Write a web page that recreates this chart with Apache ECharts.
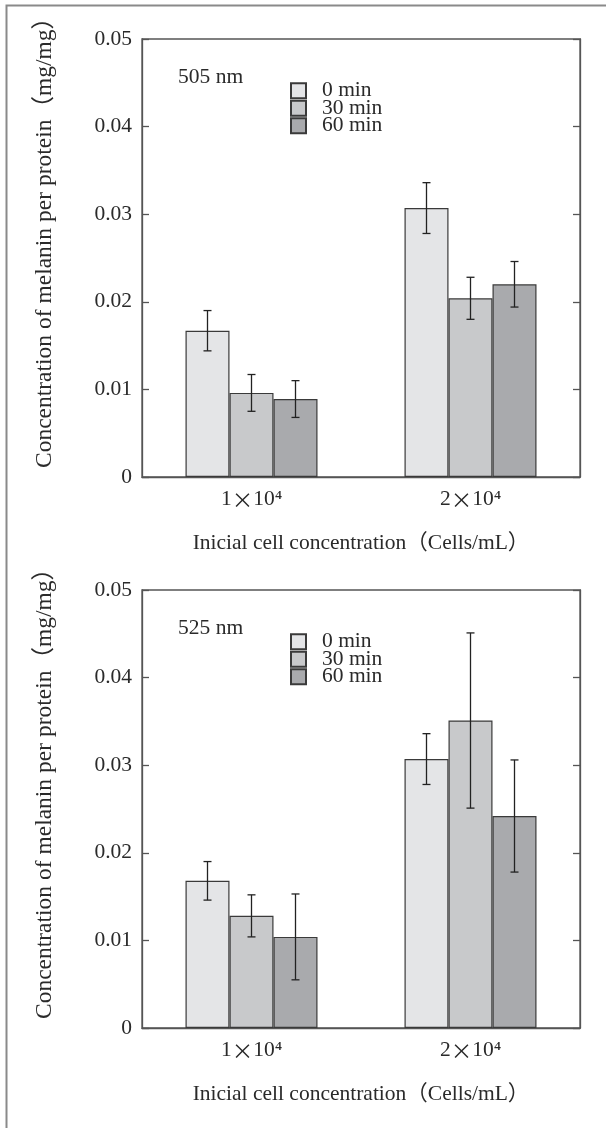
<!DOCTYPE html>
<html>
<head>
<meta charset="utf-8">
<script src="https://cdn.jsdelivr.net/npm/echarts@6/dist/echarts.min.js"></script>
<style>
html,body{margin:0;padding:0;background:#fff;}
#c{width:606px;height:1128px;}
</style>
</head>
<body>
<div id="c"></div>
<script>
// ---- data ----
const categories = ['1×10⁴', '2×10⁴'];
const seriesNames = ['0 min', '30 min', '60 min'];
const yTicks = [0, 0.01, 0.02, 0.03, 0.04, 0.05];
const panelTitles = ['505 nm', '525 nm'];

const mean505_0 = [0.0167, 0.0307];
const mean505_30 = [0.0096, 0.0204];
const mean505_60 = [0.0089, 0.0220];
const err505_0 = [0.0023, 0.0029];
const err505_30 = [0.0021, 0.0024];
const err505_60 = [0.0021, 0.0026];

const mean525_0 = [0.0168, 0.0307];
const mean525_30 = [0.0128, 0.0351];
const mean525_60 = [0.0104, 0.0242];
const err525_0 = [0.0022, 0.0029];
const err525_30 = [0.0024, 0.0100];
const err525_60 = [0.0049, 0.0064];

// ---- styles ----
const SERIF = '"Liberation Serif", "Noto Sans CJK JP", serif';
const TXT = '#2a2a2a';
const barColors = ['#e4e5e7', '#c8c9cb', '#a9aaad'];
const BAR_W = 44;
const FS = 21.5;

const panels = [
  {means: [mean505_0, mean505_30, mean505_60], errs: [err505_0, err505_30, err505_60], top: 39},
  {means: [mean525_0, mean525_30, mean525_60], errs: [err525_0, err525_30, err525_60], top: 590}
];

const grid = [], xAxis = [], yAxis = [], series = [], legend = [], title = [];

panels.forEach((p, gi) => {
  grid.push({left: 142, top: p.top, width: 438, height: 438, show: true,
    borderColor: '#555', borderWidth: 1.3, backgroundColor: 'transparent'});
  xAxis.push({
    type: 'category', gridIndex: gi, data: categories,
    axisLine: {show: true, lineStyle: {color: '#555', width: 1.3}},
    axisTick: {show: false},
    axisLabel: {margin: 12, fontFamily: SERIF, fontSize: FS, color: TXT,
      formatter: function (v) { const parts = v.split('×'); return '{n|' + parts[0] + '}{x|×}{n|' + parts[1] + '}'; },
      rich: {n: {fontFamily: SERIF, fontSize: FS, color: TXT},
             x: {fontFamily: '"Noto Sans CJK JP"', fontSize: FS, color: TXT}}},
    name: 'Inicial cell concentration（Cells/mL）', nameLocation: 'middle', nameGap: 56,
    nameTextStyle: {fontFamily: SERIF, fontSize: FS, color: TXT}
  });
  yAxis.push({
    type: 'value', gridIndex: gi, position: 'left',
    min: yTicks[0], max: yTicks[yTicks.length - 1], interval: 0.01,
    axisLine: {show: true, lineStyle: {color: '#555', width: 1.3}},
    axisTick: {show: true, inside: true, length: 7, lineStyle: {color: '#555', width: 1.3}},
    splitLine: {show: false},
    axisLabel: {margin: 10, fontFamily: SERIF, fontSize: FS, color: TXT,
      formatter: function (v) { return v === 0 ? '0' : v.toFixed(2); }},
    name: 'Concentration of melanin per protein（mg/mg）', nameLocation: 'middle', nameGap: 85,
    nameTextStyle: {fontFamily: SERIF, fontSize: 23.5, color: TXT, padding: [0, 0, 0, 42]}
  });
  yAxis.push({
    type: 'value', gridIndex: gi, position: 'right',
    min: yTicks[0], max: yTicks[yTicks.length - 1], interval: 0.01,
    axisLine: {show: true, lineStyle: {color: '#555', width: 1.3}},
    axisTick: {show: true, inside: true, length: 7, lineStyle: {color: '#555', width: 1.3}},
    splitLine: {show: false}, axisLabel: {show: false}
  });
  seriesNames.forEach((nm, si) => {
    series.push({
      type: 'bar', name: nm, xAxisIndex: gi, yAxisIndex: gi * 2,
      data: p.means[si], barWidth: BAR_W, barGap: '0%',
      itemStyle: {color: barColors[si], borderColor: '#3a3a3a', borderWidth: 1.2},
      emphasis: {disabled: true}, animation: false
    });
  });
  const errData = [];
  seriesNames.forEach((nm, si) => {
    p.means[si].forEach((m, ci) => errData.push([ci, m, p.errs[si][ci], si]));
  });
  series.push({
    type: 'custom', xAxisIndex: gi, yAxisIndex: gi * 2, data: errData, z: 10, animation: false,
    renderItem: function (params, api) {
      const ci = api.value(0), m = api.value(1), e = api.value(2), si = api.value(3);
      const t = api.coord([ci, m + e]);
      const b = api.coord([ci, m - e]);
      const cx = t[0] + (si - 1) * BAR_W;
      const cap = 4;
      const st = {stroke: '#222', lineWidth: 1.3};
      return {type: 'group', children: [
        {type: 'line', shape: {x1: cx, y1: t[1], x2: cx, y2: b[1]}, style: st},
        {type: 'line', shape: {x1: cx - cap, y1: t[1], x2: cx + cap, y2: t[1]}, style: st},
        {type: 'line', shape: {x1: cx - cap, y1: b[1], x2: cx + cap, y2: b[1]}, style: st}
      ]};
    }
  });
  legend.push({
    data: seriesNames, orient: 'vertical', left: 290, top: p.top + 41, padding: 0,
    icon: 'rect', itemWidth: 15, itemHeight: 15, itemGap: -4, selectedMode: false,
    textStyle: {fontFamily: SERIF, fontSize: FS, color: TXT, padding: [0, 0, 0, 11]}
  });
  title.push({text: panelTitles[gi], left: 178, top: p.top + 28, padding: 0,
    textStyle: {fontFamily: SERIF, fontSize: FS, fontWeight: 'normal', color: TXT}});
});

const chart = echarts.init(document.getElementById('c'), null, {renderer: 'canvas'});
chart.setOption({
  animation: false,
  backgroundColor: '#fff',
  title, legend, grid, xAxis, yAxis, series,
  graphic: [{type: 'rect', shape: {x: 6.5, y: 5.5, width: 700, height: 1200}, silent: true,
    style: {fill: 'none', stroke: '#8a8a8a', lineWidth: 2}}]
});
</script>
</body>
</html>
